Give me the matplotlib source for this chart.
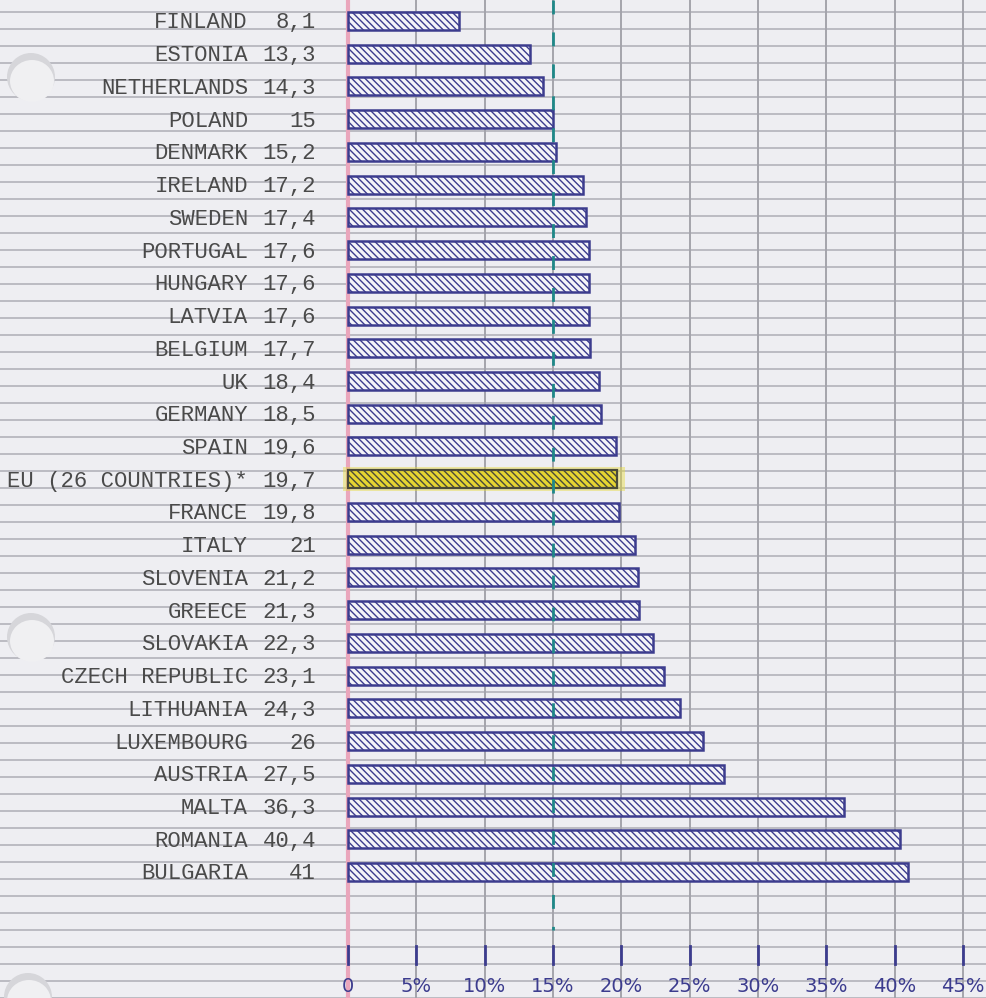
import matplotlib.pyplot as plt
from matplotlib.patches import Ellipse

countries = ['FINLAND', 'ESTONIA', 'NETHERLANDS', 'POLAND', 'DENMARK', 'IRELAND',
             'SWEDEN', 'PORTUGAL', 'HUNGARY', 'LATVIA', 'BELGIUM', 'UK', 'GERMANY',
             'SPAIN', 'EU (26 COUNTRIES)*', 'FRANCE', 'ITALY', 'SLOVENIA', 'GREECE',
             'SLOVAKIA', 'CZECH REPUBLIC', 'LITHUANIA', 'LUXEMBOURG', 'AUSTRIA',
             'MALTA', 'ROMANIA', 'BULGARIA']
values = [8.1, 13.3, 14.3, 15, 15.2, 17.2, 17.4, 17.6, 17.6, 17.6, 17.7, 18.4, 18.5,
          19.6, 19.7, 19.8, 21, 21.2, 21.3, 22.3, 23.1, 24.3, 26, 27.5, 36.3, 40.4, 41]
highlight = 'EU (26 COUNTRIES)*'
xticks = [0, 5, 10, 15, 20, 25, 30, 35, 40, 45]
xtick_labels = ['0', '5%', '10%', '15%', '20%', '25%', '30%', '35%', '40%', '45%']
ref_line = 15

# pixel geometry of the page
W, H = 986, 998
X0, PX = 348, 13.667      # pixel of 0 %, pixels per %
Y0, ROW = 21, 32.73       # pixel of first row, pixels per row

def px2x(p):
    return (p - X0) / PX

def px2y(p):
    return (p - Y0) / ROW

paper = '#eeeef2'
ink = '#3c3c8e'

fig = plt.figure(figsize=(W / 100, H / 100), dpi=100, facecolor=paper)
ax = fig.add_axes([0, 0, 1, 1])
ax.set_facecolor(paper)
ax.set_xlim(px2x(0), px2x(W))
ax.set_ylim(px2y(H), px2y(0))
ax.axis('off')

# ruled lines
y = 11.7
while y < H:
    ax.axhline(px2y(y), color='#b2b2ba', lw=1.2, zorder=1)
    y += 17.0

# vertical grid
for t in xticks[1:]:
    ax.axvline(t, color='#a4a4ac', lw=1.4, zorder=1)
ax.axvline(0, color='#eaa6bc', lw=3, zorder=1.5)

# punch holes
for hx, hy in [(31, 77), (31, 637), (28, 997)]:
    ax.add_patch(Ellipse((px2x(hx), px2y(hy)), 48 / PX, 48 / ROW,
                         facecolor='#d6d6da', edgecolor='none', zorder=2))
    ax.add_patch(Ellipse((px2x(hx + 1), px2y(hy + 4)), 44 / PX, 42 / ROW,
                         facecolor='#f0f0f2', edgecolor='none', zorder=2))

plt.rcParams['hatch.linewidth'] = 1.0
text_dy = 2 / ROW   # typewriter text sits a touch below bar centre
for i, (c, v) in enumerate(zip(countries, values)):
    if c == highlight:
        ax.barh(i, v + 1.0, left=-0.4, height=0.72, color='#e8dc3c', alpha=0.45,
                edgecolor='none', zorder=2.5)
        ax.barh(i, v, height=0.55, facecolor='#e6d532', edgecolor='#4a4a3a',
                hatch='\\\\\\\\\\', lw=1.6, zorder=3)
    else:
        ax.barh(i, v, height=0.55, facecolor='#f4f4f8', edgecolor=ink,
                hatch='\\\\\\\\\\', lw=1.8, zorder=3)
    label = f'{v:g}'.replace('.', ',')
    ax.text(px2x(248), i + text_dy, c, ha='right', va='center',
            family='Liberation Mono', fontsize=16, color='#4a4a4a', zorder=4)
    ax.text(px2x(316), i + text_dy, label, ha='right', va='center',
            family='Liberation Mono', fontsize=16, color='#4a4a4a', zorder=4)

# reference line at 15 %
ax.plot([ref_line, ref_line], [px2y(0), px2y(930)], color='#1f8888', lw=2,
        linestyle=(0, (5, 6.5)), zorder=3.5)

# hand drawn axis
for t, lab in zip(xticks, xtick_labels):
    ax.plot([t, t], [px2y(946), px2y(964)], color=ink, lw=2, zorder=4)
    ax.text(t, px2y(986), lab, ha='center', va='center', fontsize=14,
            color=ink, zorder=4)

fig.savefig('out.png', dpi=100, facecolor=paper)
